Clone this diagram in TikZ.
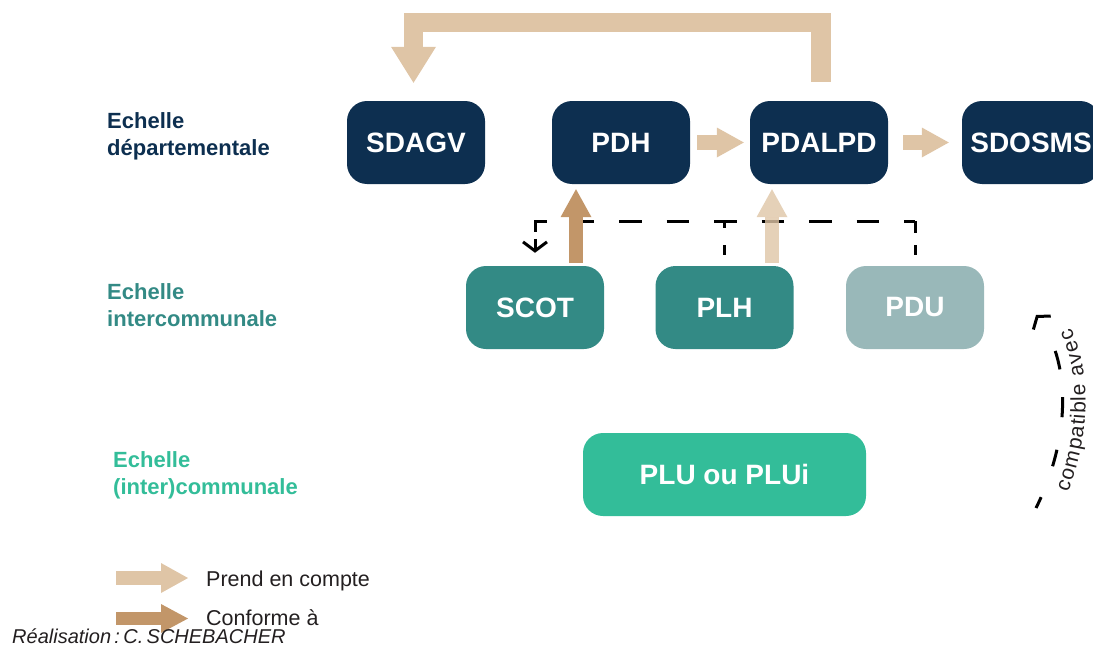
\documentclass[tikz,border=0pt]{standalone}
\usepackage{fontspec}
\setmainfont{Liberation Sans}
\usetikzlibrary{arrows.meta,decorations.text}
\definecolor{cNavy}{HTML}{0D2F50}
\definecolor{cTeal}{HTML}{338A85}
\definecolor{cPdu}{HTML}{99B8B9}
\definecolor{cGreen}{HTML}{33BD99}
\definecolor{cLight}{HTML}{DFC5A6}
\definecolor{cDark}{HTML}{C29669}
\definecolor{cText}{HTML}{231F20}
\begin{document}
\begin{tikzpicture}[x=1pt,y=-1pt,
  box/.style={rounded corners=20pt, minimum width=138pt, minimum height=83pt,
    inner sep=0pt, text=white, font=\fontsize{28}{30}\selectfont\bfseries},
  lvl/.style={align=left, anchor=north west, inner sep=0pt,
    font=\fontsize{22}{27}\selectfont\bfseries},
  legtext/.style={anchor=base west, inner sep=0pt, text=cText,
    font=\fontsize{21.5}{24}\selectfont},
  lightarrow/.style={draw=cLight, line width=15pt,
    -{Triangle[width=30pt,length=27pt,line width=0pt]}},
  darkarrow/.style={draw=cDark, line width=14pt,
    -{Triangle[width=31pt,length=28pt,line width=0pt]}},
  dashline/.style={draw=black, line width=3pt},
  barb/.style={draw=black, line width=3pt, -{Straight Barb[length=9pt,width=24pt]}}
]
\useasboundingbox (0,0) rectangle (1093,653);

% nodes
\node[box, fill=cNavy] (sdagv) at (416,142.5) {SDAGV};
\node[box, fill=cNavy] (pdh) at (621,142.5) {PDH};
\node[box, fill=cNavy] (pdalpd) at (819,142.5) {PDALPD};
\node[box, fill=cNavy] (sdosms) at (1031,142.5) {SDOSMS};
\node[box, fill=cTeal] (scot) at (535,307.5) {SCOT};
\node[box, fill=cTeal] (plh) at (724.5,307.5) {PLH};
\node[box, fill=cPdu] (pdu) at (915,307.5) {PDU};
\node[box, fill=cGreen, minimum width=283pt] (plu) at (724.5,474.5) {PLU ou PLUi};

% level labels
\node[lvl, text=cNavy] (lab1) at (107,112) {Echelle\\départementale};
\node[lvl, text=cTeal] (lab2) at (107,283) {Echelle\\intercommunale};
\node[lvl, text=cGreen] (lab3) at (113,451) {Echelle\\(inter)communale};

% dashed connectors
\coordinate (dashy) at (0,221);
\draw[dashline, dash pattern=on 22.5pt off 25pt]
  ([yshift=34pt]scot.north) -- (scot.north |- dashy) -- (pdu.north |- dashy);
\draw[dashline, dash pattern=on 10pt off 12pt on 12pt off 40pt]
  ([yshift=11pt]pdu.north) -- (pdu.north |- dashy);
\draw[dashline, dash pattern=on 10pt off 17pt on 7pt off 40pt]
  ([yshift=11pt]plh.north) -- (plh.north |- dashy);
\draw[barb] ([yshift=27pt]scot.north) -- ([yshift=13pt]scot.north);

% top loop arrow
\coordinate (topL) at (413.5,22.5);
\draw[draw=cLight, line width=19.5pt,
  -{Triangle[width=45pt,length=36pt,line width=0pt]}]
  ([xshift=2pt,yshift=19pt]pdalpd.north) |- (topL) -- ([xshift=-2.5pt,yshift=18pt]sdagv.north);

% block arrows
\draw[lightarrow] ([xshift=7pt]pdh.east) -- ([xshift=-6pt]pdalpd.west);
\draw[lightarrow] ([xshift=15pt]pdalpd.east) -- ([xshift=-13pt]sdosms.west);
\draw[darkarrow] ([xshift=41pt,yshift=3pt]scot.north) -- ([xshift=-45pt,yshift=-5pt]pdh.south);
\draw[lightarrow, line width=14pt, opacity=0.8,
  -{Triangle[width=31pt,length=28pt,line width=0pt]}]
  ([xshift=47.5pt,yshift=3pt]plh.north) -- ([xshift=-47pt,yshift=-5pt]pdalpd.south);

% compatible avec
\coordinate (ca) at (1036,508);
\coordinate (cb) at (1036,315);
\coordinate (cb0) at (1037.4,316.8);
\draw[dashline, dash pattern=on 12pt off 33pt on 17pt off 33pt on 20pt off 28pt on 19pt off 200pt]
  (ca) .. controls (1070,440) and (1073,360) .. (cb);
\draw[barb, -{Straight Barb[length=8pt,width=22pt]}] (cb0) -- (cb);
\path[decorate, decoration={text along path, text align=center, raise=-23pt,
  text={|\color{cText}\fontsize{21}{21}\selectfont|compatible avec}}]
  (ca) .. controls (1070,440) and (1073,360) .. (cb);

% legend
\coordinate (la1) at (116,578);
\coordinate (lb1) at (188,578);
\coordinate (la2) at (116,618.5);
\coordinate (lb2) at (188,618.5);
\draw[lightarrow, line width=14pt] (la1) -- (lb1);
\draw[darkarrow, line width=13pt, -{Triangle[width=29pt,length=27pt,line width=0pt]}] (la2) -- (lb2);
\node[legtext] (leg1) at (206,586) {Prend en compte};
\node[legtext] (leg2) at (206,625) {Conforme à};
\node[anchor=base west, inner sep=0pt, text=cText,
  font=\itshape\fontsize{20}{20}\selectfont] (credit) at (12,643)
  {Réalisation\,:\,C.\,SCHEBACHER};
\end{tikzpicture}
\end{document}
